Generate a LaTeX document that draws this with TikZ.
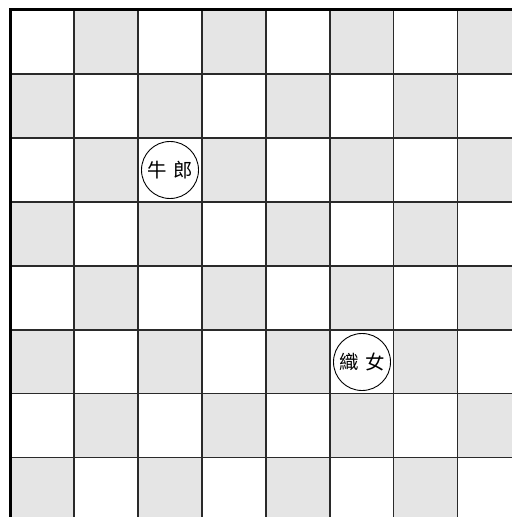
\documentclass[tikz,border=0pt]{standalone}
\usepackage{fontspec}
\newfontfamily\cjk{Noto Sans CJK TC}
\definecolor{cellgray}{HTML}{E5E5E5}
\definecolor{gridline}{HTML}{2A2A2A}
\tikzset{
  piece/.style={circle,draw=black,line width=0.9bp,fill=white,minimum size=57bp,inner sep=0pt,font=\cjk\fontsize{19.5}{20}\selectfont},
}
\begin{document}
\begin{tikzpicture}[x=1bp,y=-1bp]
\useasboundingbox (0,0) rectangle (512,517);
\begin{scope}
\clip (0,0) rectangle (512,517);
\fill[white] (-2,-2) rectangle (514,519);
\foreach \i in {0,...,7} {
  \foreach \j in {0,...,7} {
    \pgfmathtruncatemacro{\parity}{mod(\i+\j,2)}
    \ifnum\parity=1
      \fill[cellgray] ({10+\i*63.95},{10+\j*63.95}) rectangle ({10+(\i+1)*63.95},{10+(\j+1)*63.95});
    \fi
  }
}
\foreach \k in {1,...,7} {
  \draw[gridline,line width=1.5bp] ({10+\k*63.95},10) -- ({10+\k*63.95},530);
  \draw[gridline,line width=1.5bp] (10,{10+\k*63.95}) -- (530,{10+\k*63.95});
}
\draw[black,line width=3bp] (10,530) -- (10,10) -- (530,10);
\end{scope}
\node[piece] (niulang) at (170,170) {牛\,\,郎};
\node[piece] (zhinu) at (362,362) {織\,\,女};
\end{tikzpicture}
\end{document}
